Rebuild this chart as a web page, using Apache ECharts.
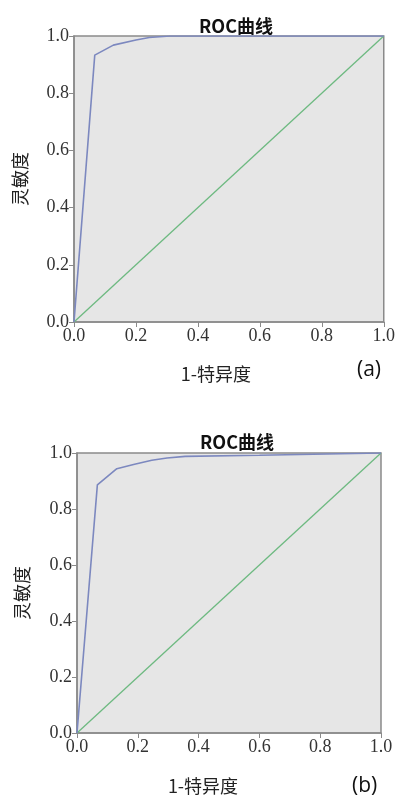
<!DOCTYPE html>
<html>
<head>
<meta charset="utf-8">
<script src="https://cdn.jsdelivr.net/npm/echarts@6/dist/echarts.min.js"></script>
<style>html,body{margin:0;padding:0;background:#fff;}#c{width:398px;height:796px;}</style>
</head>
<body>
<div id="c"></div>
<script>
// Chart (a)
const fprA = [0, 0.067, 0.127, 0.2, 0.243, 0.31, 1];
const tprA = [0, 0.933, 0.968, 0.986, 0.995, 1.0, 1];
// Chart (b)
const fprB = [0, 0.067, 0.131, 0.186, 0.246, 0.296, 0.356, 0.6, 1];
const tprB = [0, 0.886, 0.944, 0.959, 0.974, 0.982, 0.988, 0.992, 1];
// Reference diagonal
const diagX = [0, 1];
const diagY = [0, 1];
const tickLabels = ['0.0', '0.2', '0.4', '0.6', '0.8', '1.0'];
const titleText = 'ROC曲线';
const xName = '1-特异度';
const yName = '灵敏度';
const panelLabels = ['(a)', '(b)'];

const pairs = (xs, ys) => xs.map((x, i) => [x, ys[i]]);
const fmt = v => tickLabels[Math.round(v / 0.2)];

const axisCommon = {
  type: 'value', min: 0, max: 1, interval: 0.2,
  axisLine: { show: true, lineStyle: { color: '#8a8a8a', width: 1.5 } },
  axisTick: { show: true, inside: false, length: 5, lineStyle: { color: '#8a8a8a' } },
  splitLine: { show: false },
  axisLabel: { formatter: fmt, fontFamily: 'Liberation Serif', fontSize: 18, color: '#333', margin: 5 }
};
const nameStyle = { fontFamily: 'Noto Sans CJK SC', fontSize: 18, color: '#222' };
const titleStyle = { fontFamily: 'Noto Sans CJK SC', fontWeight: 'bold', fontSize: 18, color: '#111' };

const chart = echarts.init(document.getElementById('c'));
chart.setOption({
  animation: false,
  backgroundColor: '#ffffff',
  title: [
    { text: titleText, left: 231, top: 12, textAlign: 'center', textStyle: titleStyle },
    { text: titleText, left: 232, top: 428, textAlign: 'center', textStyle: titleStyle }
  ],
  grid: [
    { left: 74, top: 36, width: 313, height: 286, show: true, backgroundColor: '#e6e6e6', borderColor: '#8a8a8a', borderWidth: 1.5 },
    { left: 77, top: 453, width: 304, height: 281, show: true, backgroundColor: '#e6e6e6', borderColor: '#8a8a8a', borderWidth: 1.5 }
  ],
  xAxis: [
    Object.assign({}, axisCommon, { gridIndex: 0, name: xName, nameLocation: 'middle', nameGap: 43,
      nameTextStyle: Object.assign({}, nameStyle, { padding: [0, 26, 0, 0] }) }),
    Object.assign({}, axisCommon, { gridIndex: 1, name: xName, nameLocation: 'middle', nameGap: 44,
      nameTextStyle: Object.assign({}, nameStyle, { padding: [0, 52, 0, 0] }) })
  ],
  yAxis: [
    Object.assign({}, axisCommon, { gridIndex: 0, name: yName, nameLocation: 'middle', nameGap: 45, nameRotate: 90,
      nameTextStyle: nameStyle }),
    Object.assign({}, axisCommon, { gridIndex: 1, name: yName, nameLocation: 'middle', nameGap: 46, nameRotate: 90,
      nameTextStyle: nameStyle })
  ],
  graphic: [
    { type: 'text', left: 357, top: 360, style: { text: panelLabels[0], font: '21px "Open Sans"', fill: '#111' } },
    { type: 'text', left: 352, top: 776, style: { text: panelLabels[1], font: '21px "Open Sans"', fill: '#111' } }
  ],
  series: [
    { type: 'line', xAxisIndex: 0, yAxisIndex: 0, data: pairs(diagX, diagY), showSymbol: false,
      lineStyle: { color: '#6db980', width: 1.3 } },
    { type: 'line', xAxisIndex: 0, yAxisIndex: 0, data: pairs(fprA, tprA), showSymbol: false,
      lineStyle: { color: '#7c88bf', width: 1.6 } },
    { type: 'line', xAxisIndex: 1, yAxisIndex: 1, data: pairs(diagX, diagY), showSymbol: false,
      lineStyle: { color: '#6db980', width: 1.3 } },
    { type: 'line', xAxisIndex: 1, yAxisIndex: 1, data: pairs(fprB, tprB), showSymbol: false,
      lineStyle: { color: '#7c88bf', width: 1.6 } }
  ]
});
</script>
</body>
</html>
